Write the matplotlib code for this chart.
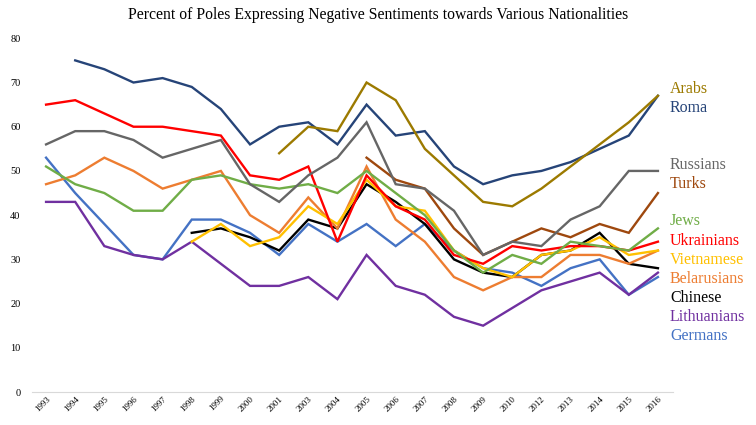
import numpy as np
import matplotlib.pyplot as plt

years = ["1993", "1994", "1995", "1996", "1997", "1998", "1999", "2000", "2001",
         "2003", "2004", "2005", "2006", "2007", "2008", "2009", "2010", "2012",
         "2013", "2014", "2015", "2016"]
n = np.nan

arabs = [n, n, n, n, n, n, n, n, 54, 60, 59, 70, 66, 55, 49, 43, 42, 46, 51, 56, 61, 67]
roma = [n, 75, 73, 70, 71, 69, 64, 56, 60, 61, 56, 65, 58, 59, 51, 47, 49, 50, 52, 55, 58, 67]
russians = [56, 59, 59, 57, 53, 55, 57, 47, 43, 49, 53, 61, 47, 46, 41, 31, 34, 33, 39, 42, 50, 50]
turks = [n, n, n, n, n, n, n, n, n, n, n, 53, 48, 46, 37, 31, 34, 37, 35, 38, 36, 45]
jews = [51, 47, 45, 41, 41, 48, 49, 47, 46, 47, 45, 50, 45, 40, 32, 27, 31, 29, 34, 33, 32, 37]
ukrainians = [65, 66, 63, 60, 60, 59, 58, 49, 48, 51, 34, 49, 42, 39, 31, 29, 33, 32, 33, 33, 32, 34]
vietnamese = [n, n, n, n, n, 34, 38, 33, 35, 42, 38, 48, 42, 41, 32, 28, 26, 31, 32, 35, 31, 32]
belarusians = [47, 49, 53, 50, 46, 48, 50, 40, 36, 44, 37, 51, 39, 34, 26, 23, 26, 26, 31, 31, 29, 32]
chinese = [n, n, n, n, n, 36, 37, 35, 32, 39, 37, 47, 43, 38, 30, 27, 26, 31, 32, 36, 29, 28]
lithuanians = [43, 43, 33, 31, 30, 34, 29, 24, 24, 26, 21, 31, 24, 22, 17, 15, 19, 23, 25, 27, 22, 27]
germans = [53, 45, 38, 31, 30, 39, 39, 36, 31, 38, 34, 38, 33, 38, 32, 28, 27, 24, 28, 30, 22, 26]

names = ["Arabs", "Roma", "Russians", "Turks", "Jews", "Ukrainians", "Vietnamese",
         "Belarusians", "Chinese", "Lithuanians", "Germans"]
series = [arabs, roma, russians, turks, jews, ukrainians, vietnamese,
          belarusians, chinese, lithuanians, germans]
colors = ["#9C7A00", "#264478", "#666666", "#9E480E", "#70AD47", "#FF0000",
          "#FFC000", "#ED7D31", "#000000", "#7030A0", "#4472C4"]
label_y = [89, 108, 165, 184, 221, 241, 260, 279, 298, 317, 336]

plt.rcParams["font.family"] = ["Liberation Serif", "DejaVu Serif"]

fig = plt.figure(figsize=(7.56, 4.25), dpi=100)
ax = fig.add_axes([31.5 / 756, 1 - 392 / 425, 641 / 756, (392 - 38.3) / 425])

x = np.arange(len(years))
for name, vals, c in reversed(list(zip(names, series, colors))):
    ax.plot(x, vals, color=c, lw=1.7, solid_joinstyle="miter")

for name, c, ly in zip(names, colors, label_y):
    fig.text(670 / 756, 1 - ly / 425, name, color=c, fontsize=11.5, va="center", ha="left")

ax.set_xlim(-0.5, len(years) - 0.5)
ax.set_ylim(0, 80)
ax.set_yticks(range(0, 81, 10))
ax.set_xticks(x)
ax.set_xticklabels(years, rotation=45, ha="right", rotation_mode="anchor", fontsize=6.5)
ax.tick_params(axis="y", labelsize=7.5, length=0, pad=8)
ax.tick_params(axis="x", length=0, pad=2)
for s in ["top", "right", "left"]:
    ax.spines[s].set_visible(False)
ax.spines["bottom"].set_color("#D9D9D9")

fig.text(0.5, 1 - 15 / 425, "Percent of Poles Expressing Negative Sentiments towards Various Nationalities",
         ha="center", va="center", fontsize=11.3)

fig.savefig("out.png", dpi=100)
